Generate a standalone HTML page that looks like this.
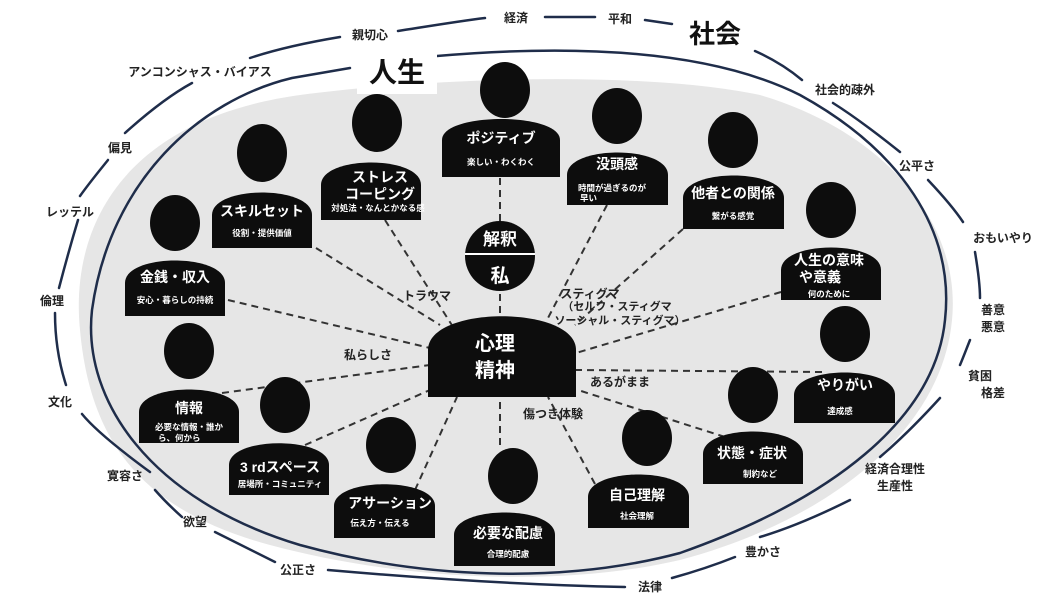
<!DOCTYPE html>
<html><head><meta charset="utf-8"><style>
html,body{margin:0;padding:0;background:#fff;}
svg{display:block;font-family:"Liberation Sans","Noto Sans CJK JP",sans-serif;font-weight:bold;}
.t{fill:#fff;font-size:14px;text-anchor:middle;}
.s{fill:#fff;font-size:8.5px;text-anchor:middle;}
.o{fill:#222;font-size:12px;text-anchor:middle;}
.d{stroke:#333;stroke-width:2;stroke-dasharray:7 5;fill:none;}
.n{stroke:#1f2d4a;stroke-width:2.5;fill:none;stroke-linecap:round;}
</style></head><body>
<svg width="1064" height="603" viewBox="0 0 1064 603">
<path d="M80,330 C70,230 120,120 300,95 C430,78 640,70 760,95 C880,130 962,220 952,320 C942,430 830,520 680,560 C560,588 400,580 270,545 C140,510 90,440 80,330 Z" fill="#e6e6e6"/>
<path class="n" d="M437,56 C600,42 720,55 800,95 C900,150 955,230 945,320 C935,420 830,500 680,553 C560,585 420,578 300,545 C150,500 82,400 92,310 C110,180 200,100 292,78 L350,68"/>
<g class="n">
<path d="M250,58 C280,48 310,42 340,37"/>
<path d="M398,31 C430,26 460,21 485,18"/>
<path d="M545,17 L595,17"/>
<path d="M645,20 L672,24"/>
<path d="M755,51 C775,60 790,70 802,80"/>
<path d="M833,103 C860,120 885,140 900,152"/>
<path d="M928,180 C945,198 955,210 963,222"/>
<path d="M975,252 C978,270 980,285 980,298"/>
<path d="M970,340 C966,350 963,358 960,365"/>
<path d="M940,398 C920,420 900,440 880,457"/>
<path d="M850,500 C820,515 790,528 760,537"/>
<path d="M735,557 C715,565 690,573 672,578"/>
<path d="M625,587 C520,585 420,578 328,570"/>
<path d="M275,562 C255,552 235,542 215,532"/>
<path d="M182,517 C172,508 162,498 155,490"/>
<path d="M150,472 C120,450 95,430 82,414"/>
<path d="M66,385 C58,360 55,335 55,313"/>
<path d="M59,288 C65,265 72,240 78,220"/>
<path d="M80,196 C90,182 100,170 108,160"/>
<path d="M125,133 C145,115 170,95 192,83"/>
</g>
<g class="o">
<text x="200" y="76">アンコンシャス・バイアス</text>
<text x="370" y="39">親切心</text>
<text x="516" y="22">経済</text>
<text x="620" y="23">平和</text>
<text x="715" y="43" style="font-size:26px;fill:#111">社会</text>
<text x="845" y="94">社会的疎外</text>
<text x="917" y="170">公平さ</text>
<text x="1003" y="242">おもいやり</text>
<text x="993" y="314">善意</text>
<text x="993" y="331">悪意</text>
<text x="980" y="380">貧困</text>
<text x="993" y="397">格差</text>
<text x="895" y="473">経済合理性</text>
<text x="895" y="490">生産性</text>
<text x="763" y="556">豊かさ</text>
<text x="650" y="591">法律</text>
<text x="298" y="574">公正さ</text>
<text x="195" y="526">欲望</text>
<text x="125" y="480">寛容さ</text>
<text x="60" y="406">文化</text>
<text x="52" y="305">倫理</text>
<text x="70" y="216">レッテル</text>
<text x="120" y="152">偏見</text>
</g>
<rect x="357" y="50" width="80" height="44" fill="#fff"/>
<text x="397" y="82" style="font-size:28px;text-anchor:middle;fill:#111">人生</text>
<g class="d">
<path d="M500,313 L500,290"/><path d="M500,221 L500,177"/>
<path d="M385,220 L455,330"/>
<path d="M316,248 L440,325"/>
<path d="M607,205 L548,318"/>
<path d="M683,229 L575,325"/>
<path d="M781,292 L576,353"/>
<path d="M228,300 L430,348"/>
<path d="M222,393 L430,365"/>
<path d="M305,445 L430,390"/>
<path d="M415,490 L457,397"/>
<path d="M500,445 L500,397"/>
<path d="M595,484 L548,397"/>
<path d="M725,437 L578,390"/>
<path d="M822,372 L576,370"/>
</g>
<g fill="#0d0d0d">
<ellipse cx="505" cy="90" rx="25" ry="28"/><path d="M442,177 V140 C442,112 560,112 560,140 V177 Z"/>
<ellipse cx="377" cy="123" rx="25" ry="29"/><path d="M321,220 V185 C321,155 421,155 421,185 V220 Z"/>
<ellipse cx="617" cy="116" rx="25" ry="28"/><path d="M567,205 V175 C567,145 668,145 668,175 V205 Z"/>
<ellipse cx="733" cy="140" rx="25" ry="28"/><path d="M683,229 V198 C683,168 784,168 784,198 V229 Z"/>
<ellipse cx="262" cy="153" rx="25" ry="29"/><path d="M212,248 V215 C212,185 312,185 312,215 V248 Z"/>
<ellipse cx="175" cy="223" rx="25" ry="28"/><path d="M125,316 V283 C125,253 225,253 225,283 V316 Z"/>
<ellipse cx="831" cy="210" rx="25" ry="28"/><path d="M781,300 V270 C781,240 881,240 881,270 V300 Z"/>
<ellipse cx="845" cy="334" rx="25" ry="28"/><path d="M794,423 V395 C794,365 895,365 895,395 V423 Z"/>
<ellipse cx="189" cy="351" rx="25" ry="28"/><path d="M139,443 V412 C139,382 239,382 239,412 V443 Z"/>
<ellipse cx="285" cy="405" rx="25" ry="28"/><path d="M229,495 V465 C229,436 329,436 329,465 V495 Z"/>
<ellipse cx="391" cy="445" rx="25" ry="28"/><path d="M334,538 V506 C334,477 435,477 435,506 V538 Z"/>
<ellipse cx="513" cy="476" rx="25" ry="28"/><path d="M454,566 V535 C454,505 555,505 555,535 V566 Z"/>
<ellipse cx="647" cy="438" rx="25" ry="28"/><path d="M588,528 V497 C588,467 689,467 689,497 V528 Z"/>
<ellipse cx="753" cy="395" rx="25" ry="28"/><path d="M703,484 V454 C703,424 803,424 803,454 V484 Z"/>
<path d="M428,397 V350 C428,305 576,305 576,350 V397 Z"/>
<circle cx="500" cy="256" r="35"/>
</g>
<line x1="465" y1="254" x2="535" y2="254" stroke="#fff" stroke-width="2"/>
<text x="500" y="245" class="t" style="font-size:17px">解釈</text>
<text x="500" y="282" class="t" style="font-size:19px">私</text>
<text x="495" y="350" class="t" style="font-size:20px">心理</text>
<text x="495" y="377" class="t" style="font-size:20px">精神</text>
<text class="t" x="501" y="143">ポジティブ</text><text class="s" x="501" y="165">楽しい・わくわく</text>
<text class="t" x="380" y="182">ストレス</text><text class="t" x="380" y="199">コーピング</text><text class="s" x="378" y="211">対処法・なんとかなる感</text>
<text class="t" x="617" y="169">没頭感</text><text class="s" x="612" y="191">時間が過ぎるのが</text><text class="s" x="580" y="201" style="text-anchor:start">早い</text>
<text class="t" x="733" y="198">他者との関係</text><text class="s" x="733" y="219">繋がる感覚</text>
<text class="t" x="262" y="216">スキルセット</text><text class="s" x="262" y="236">役割・提供価値</text>
<text class="t" x="175" y="282">金銭・収入</text><text class="s" x="175" y="303">安心・暮らしの持続</text>
<text class="t" x="829" y="265">人生の意味</text><text class="t" x="820" y="282">や意義</text><text class="s" x="829" y="297">何のために</text>
<text class="t" x="845" y="390">やりがい</text><text class="s" x="840" y="414">達成感</text>
<text class="t" x="189" y="413">情報</text><text class="s" x="189" y="430">必要な情報・誰か</text><text class="s" x="158" y="441" style="text-anchor:start">ら、何から</text>
<text class="t" x="280" y="472">3 rdスペース</text><text class="s" x="280" y="487">居場所・コミュニティ</text>
<text class="t" x="390" y="508">アサーション</text><text class="s" x="380" y="526">伝え方・伝える</text>
<text class="t" x="508" y="538">必要な配慮</text><text class="s" x="508" y="557">合理的配慮</text>
<text class="t" x="637" y="500">自己理解</text><text class="s" x="637" y="519">社会理解</text>
<text class="t" x="752" y="458">状態・症状</text><text class="s" x="760" y="477">制約など</text>
<g class="o">
<text x="427" y="300">トラウマ</text>
<text x="368" y="359">私らしさ</text>
<text x="590" y="298">スティグマ</text>
<text x="617" y="310" style="font-size:11px">（セルフ・スティグマ</text>
<text x="620" y="324" style="font-size:11px">ソーシャル・スティグマ）</text>
<text x="620" y="386">あるがまま</text>
<text x="553" y="418">傷つき体験</text>
</g>
</svg>
</body></html>
